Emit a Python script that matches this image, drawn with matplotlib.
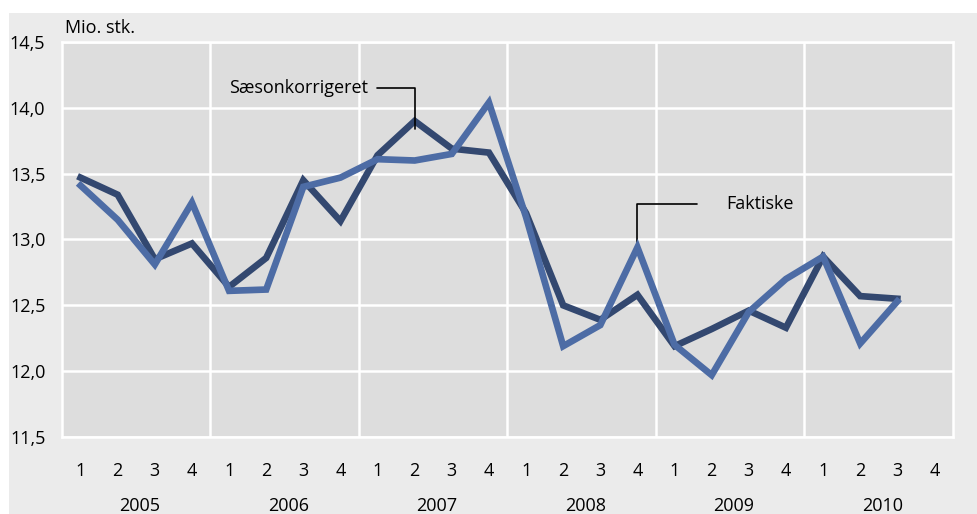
import numpy as np
import matplotlib
matplotlib.use("Agg")
import matplotlib.pyplot as plt
from matplotlib.patches import Rectangle
import matplotlib.transforms as mtransforms

plt.rcParams['font.family'] = ['Open Sans', 'DejaVu Sans']

# data (quarterly, 2005Q1 - 2010Q3)
years = [2005, 2006, 2007, 2008, 2009, 2010]
quarters = ['1', '2', '3', '4']
saeson = [13.47, 13.34, 12.85, 12.97, 12.64, 12.86, 13.45, 13.14,
          13.64, 13.90, 13.69, 13.66, 13.20, 12.50, 12.39, 12.58,
          12.19, 12.32, 12.46, 12.33, 12.87, 12.57, 12.55]
faktiske = [13.41, 13.15, 12.81, 13.28, 12.61, 12.62, 13.40, 13.47,
            13.61, 13.60, 13.65, 14.04, 13.17, 12.19, 12.35, 12.94,
            12.20, 11.97, 12.45, 12.70, 12.87, 12.21, 12.53]
yticks = [11.5, 12.0, 12.5, 13.0, 13.5, 14.0, 14.5]

dark = '#334870'
light = '#4d6ca5'
fs = 13

W, H = 977, 514
fig = plt.figure(figsize=(W / 100, H / 100), dpi=100)
fig.patch.set_facecolor('white')
fig.patches.append(Rectangle((9 / W, 0), 1 - 9 / W, (H - 13) / H,
                             transform=fig.transFigure, facecolor='#ebebeb',
                             edgecolor='none', zorder=-10))

ax = fig.add_axes([62 / W, (H - 437) / H, 891 / W, 395 / H])
ax.set_facecolor('#dddddd')

n = len(years) * 4
x = np.arange(len(saeson))
ax.plot(x, saeson, color=dark, lw=4.8, solid_joinstyle='miter', zorder=3)
ax.plot(x, faktiske, color=light, lw=4.8, solid_joinstyle='miter', zorder=4)

ax.set_xlim(-0.5, n - 0.5)
ax.set_ylim(11.5, 14.5)

# grid: horizontal every 0.5, vertical at year boundaries
for yv in yticks:
    ax.axhline(yv, color='white', lw=1.8, zorder=1)
for b in range(1, len(years)):
    ax.axvline(b * 4 - 0.5, color='white', lw=1.8, zorder=1)
for s in ax.spines.values():
    s.set_color('white')
    s.set_linewidth(1.8)

ax.set_yticks(yticks)
ax.set_yticklabels([f'{v:.1f}'.replace('.', ',') for v in yticks], fontsize=fs)
ax.set_xticks(np.arange(n))
ax.set_xticklabels(quarters * len(years), fontsize=fs)
ax.tick_params(axis='y', length=0, pad=12)
ax.tick_params(axis='x', length=0, pad=18)

trans = mtransforms.blended_transform_factory(ax.transData, ax.transAxes)
for i, yr in enumerate(years):
    ax.text(i * 4 + 1.6, -69 / 395, str(yr), transform=trans, ha='center',
            va='center', fontsize=fs)

ax.text(0.003, 1 + 14 / 395, 'Mio. stk.', transform=ax.transAxes, ha='left',
        va='center', fontsize=fs)

# annotations with leader lines
ax.annotate('Sæsonkorrigeret', xy=(9, 13.84), xytext=(7.75, 14.15),
            ha='right', va='center', fontsize=fs,
            arrowprops=dict(arrowstyle='-', color='black', lw=1.2,
                            connectionstyle='angle,angleA=0,angleB=90,rad=0',
                            shrinkA=4, shrinkB=0))
ax.annotate('Faktiske', xy=(15, 12.95), xytext=(17.4, 13.27),
            ha='left', va='center', fontsize=fs,
            arrowprops=dict(arrowstyle='-', color='black', lw=1.2,
                            connectionstyle='angle,angleA=0,angleB=90,rad=0',
                            shrinkA=19, shrinkB=0))

fig.savefig('out.png', dpi=100, facecolor=fig.get_facecolor())
